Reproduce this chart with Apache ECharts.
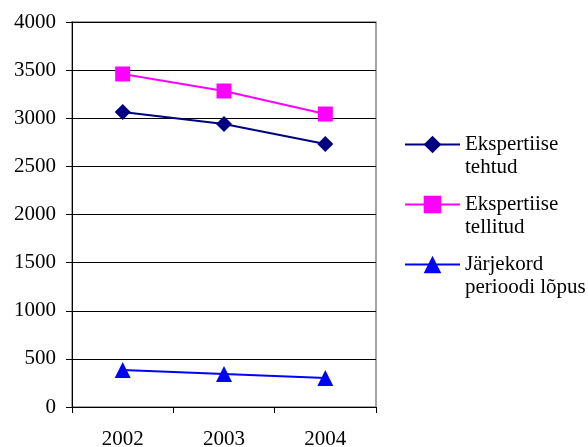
<!DOCTYPE html>
<html><head><meta charset="utf-8">
<script src="https://cdn.jsdelivr.net/npm/echarts@6/dist/echarts.min.js"></script>
<style>html,body{margin:0;padding:0;background:#fff}#c{width:588px;height:447px}</style>
</head><body><div id="c"></div>
<script>
const years = ['2002', '2003', '2004'];
const tehtud = [3065, 2940, 2732];
const tellitud = [3460, 3283, 3044];
const jarjekord = [384, 343, 301];
const names = ['Ekspertiise\ntehtud', 'Ekspertiise\ntellitud', 'Järjekord\nperioodi lõpus'];
const font = 'Liberation Serif';
const chart = echarts.init(document.getElementById('c'));
function ser(name, data, color, symbol, size) {
  return {
    name, type: 'line', data, symbol, symbolSize: size,
    lineStyle: { color, width: 2 }, itemStyle: { color },
    emphasis: { disabled: true }, animation: false
  };
}
chart.setOption({
  animation: false,
  grid: { left: 72, right: 212, top: 22, bottom: 40, show: true, borderColor: '#888', borderWidth: 1.5,
          outerBoundsMode: 'none', containLabel: false },
  legend: {
    orient: 'vertical', left: 404, top: 110, padding: 0,
    itemWidth: 55, itemHeight: 22, itemGap: -9,
    formatter: n => ' \n' + n,
    textStyle: { fontFamily: font, fontSize: 21, color: '#000', lineHeight: 23 },
    data: names
  },
  xAxis: {
    type: 'category', data: years, boundaryGap: true,
    axisLine: { lineStyle: { color: '#000', width: 1 } },
    axisTick: { show: true, length: 6, lineStyle: { color: '#000' } },
    axisLabel: { fontFamily: font, fontSize: 21, color: '#000', margin: 22 },
    splitLine: { show: false }
  },
  yAxis: {
    type: 'value', min: 0, max: 4000, interval: 500,
    axisLine: { show: true, lineStyle: { color: '#000', width: 1 } },
    axisTick: { show: true, length: 6, lineStyle: { color: '#000' } },
    axisLabel: { fontFamily: font, fontSize: 21, color: '#000', margin: 16, formatter: v => String(v) },
    splitLine: { show: true, lineStyle: { color: '#000', width: 1 } }
  },
  series: [
    ser(names[0], tehtud, '#000080', 'diamond', 16),
    ser(names[1], tellitud, '#FF00FF', 'rect', 15),
    ser(names[2], jarjekord, '#0000FF', 'triangle', 16)
  ]
});
</script></body></html>
